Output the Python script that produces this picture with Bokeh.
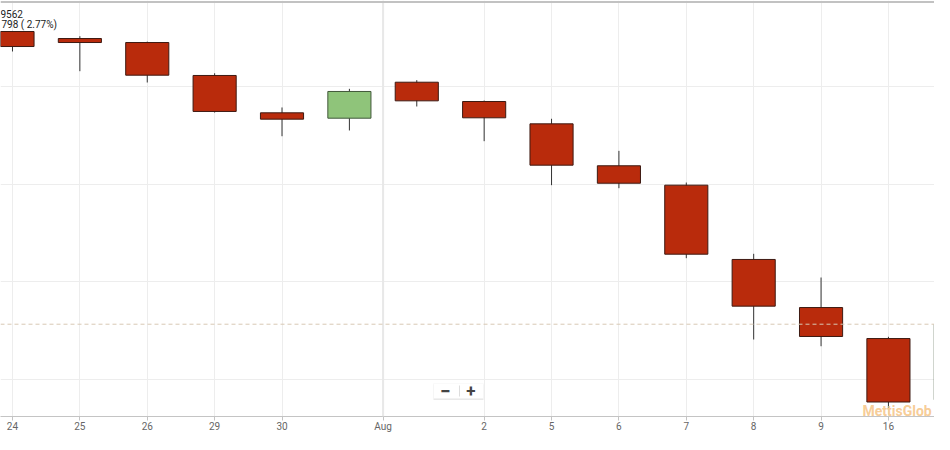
from bokeh.plotting import figure
from bokeh.models import FixedTicker, Span, Label, Range1d, ColumnDataSource, BoxAnnotation
from bokeh.embed import file_html
from bokeh.resources import INLINE

# ---------------- data ----------------
dates = ["Jul 24", "Jul 25", "Jul 26", "Jul 29", "Jul 30", "Jul 31", "Aug 1", "Aug 2",
         "Aug 5", "Aug 6", "Aug 7", "Aug 8", "Aug 9", "Aug 16", "Aug 19"]
opens  = [32564, 32492, 32451, 32113, 31730, 31675, 32044, 31846, 31617, 31187, 30988, 30226, 29733, 29415, 28787]
highs  = [32570, 32516, 32460, 32136, 31785, 31976, 32065, 31856, 31669, 31340, 31015, 30284, 30041, 29433, 29600]
lows   = [32359, 32157, 32041, 31733, 31490, 31549, 31795, 31439, 30988, 30957, 30239, 29405, 29336, 28701, 28760]
closes = [32410, 32451, 32116, 31744, 31665, 31949, 31853, 31679, 31193, 31008, 30280, 29747, 29436, 28764, 29562]

tick_positions = [0, 1, 2, 3, 4, 5.5, 7, 8, 9, 10, 11, 12, 13]
tick_labels = ["24", "25", "26", "29", "30", "Aug", "2", "5", "6", "7", "8", "9", "16"]
month_tick = 5.5
y_grid_values = [29000, 30000, 31000, 32000]

last_close = 29562
change_pts = 798
change_pct = 2.77
watermark = "MettisGlob"

# ---------------- geometry ----------------
W, H = 934, 434
FRAME_H = 416
X0 = -0.178
X1 = X0 + W / 67.38
Y1 = 30000 + 281 / 0.0975
Y0 = Y1 - FRAME_H / 0.0975

def px_to_x(px):  # picture x -> data x
    return X0 + px / W * (X1 - X0)

def py_to_y(py):  # picture y -> data y
    return Y1 - py / FRAME_H * (Y1 - Y0)

RED, RED_LINE = "#B92B0C", "#3d1a12"
GREEN, GREEN_LINE = "#8FC47A", "#41573a"

p = figure(width=W, height=H, output_backend="svg", toolbar_location=None,
           x_range=Range1d(X0, X1), y_range=Range1d(Y0, Y1),
           min_border_left=0, min_border_right=0, min_border_top=0, min_border_bottom=18)
p.outline_line_color = None
p.background_fill_color = "white"
p.border_fill_color = "white"

# axes
p.yaxis.visible = False
ticker = FixedTicker(ticks=tick_positions)
xa = p.xaxis[0]
xa.ticker = ticker
xa.major_label_overrides = {t: l for t, l in zip(tick_positions, tick_labels)}
xa.axis_line_color = "#c4c4c4"
xa.major_tick_line_color = "#c4c4c4"
xa.major_tick_out = 4
xa.major_tick_in = 0
xa.minor_tick_line_color = None
xa.major_label_standoff = 0
xa.major_label_text_font = "Roboto"
xa.major_label_text_font_size = "10px"
xa.major_label_text_color = "#666666"

# grids
p.xgrid.ticker = ticker
p.xgrid.grid_line_color = "#ededed"
p.ygrid.ticker = FixedTicker(ticks=y_grid_values)
p.ygrid.grid_line_color = "#ededed"
p.add_layout(Span(location=month_tick, dimension="height", line_color="#e8e8e8", line_width=2))
# top border of the chart container
p.add_layout(Span(location=py_to_y(1.5), dimension="width", line_color="#c2c2c2", line_width=2))

# candles
xs = list(range(len(dates)))
src = ColumnDataSource(dict(
    x=xs, high=highs, low=lows,
    top=[max(o, c) for o, c in zip(opens, closes)],
    bottom=[min(o, c) for o, c in zip(opens, closes)],
    fill=[GREEN if c > o else RED for o, c in zip(opens, closes)],
    line=[GREEN_LINE if c > o else RED_LINE for o, c in zip(opens, closes)],
))
p.segment(x0="x", y0="high", x1="x", y1="low", source=src, line_color="#333333", line_width=1)
p.vbar(x="x", width=0.64, top="top", bottom="bottom", source=src,
       fill_color="fill", line_color="line", line_width=1)

# last price dashed line
p.add_layout(Span(location=last_close, dimension="width", line_color="#d8c8b4",
                  line_width=1, line_dash="4 3"))

# watermark
p.add_layout(Label(x=px_to_x(862), y=py_to_y(410.5), text=watermark,
                   text_font="Roboto", text_font_style="bold", text_font_size="14px",
                   text_color="#F6C68A", text_alpha=0.9, text_baseline="middle"))

# top-left info text
close_str = str(last_close)[1:]
info_font = "'Liberation Sans Narrow', Roboto"
p.add_layout(Label(x=px_to_x(0), y=py_to_y(13.5), text=close_str, text_font=info_font,
                   text_font_size="10px", text_color="#222222", text_baseline="middle"))
p.add_layout(Label(x=px_to_x(1), y=py_to_y(23.5), text=f"{change_pts} ( {change_pct}%)",
                   text_font=info_font, text_font_size="10px", text_color="#222222",
                   text_baseline="middle"))

# zoom buttons
p.add_layout(BoxAnnotation(left=px_to_x(433), right=px_to_x(483), top=py_to_y(384),
                           bottom=py_to_y(399.5), fill_color="#e9e9e9", fill_alpha=1,
                           line_color=None, level="overlay"))
p.add_layout(BoxAnnotation(left=px_to_x(433), right=px_to_x(483), top=py_to_y(383),
                           bottom=py_to_y(398), fill_color="white", fill_alpha=1,
                           line_color="#eeeeee", level="overlay"))
p.add_layout(BoxAnnotation(left=px_to_x(458.5), right=px_to_x(459.5), top=py_to_y(385),
                           bottom=py_to_y(396), fill_color="#dddddd", fill_alpha=1,
                           line_color=None, level="overlay"))
p.add_layout(Label(x=px_to_x(445), y=py_to_y(390.5), text="\u2212", text_font="Roboto",
                   text_font_style="bold", text_font_size="19px", text_color="#444444",
                   text_align="center", text_baseline="middle", level="overlay"))
p.add_layout(Label(x=px_to_x(470.5), y=py_to_y(390.5), text="+", text_font="Roboto",
                   text_font_style="bold", text_font_size="17px", text_color="#444444",
                   text_align="center", text_baseline="middle", level="overlay"))

open("out.html", "w").write(file_html(p, INLINE))
